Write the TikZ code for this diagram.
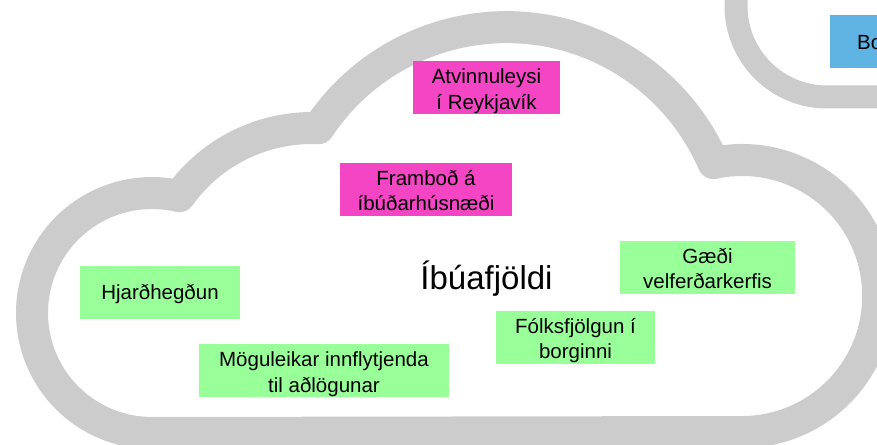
\documentclass[tikz,border=0pt]{standalone}
\usepackage{fontspec}
\setmainfont{Liberation Sans}
\definecolor{cloudgray}{RGB}{204,204,204}
\definecolor{factorgreen}{RGB}{153,255,153}
\definecolor{factorpink}{RGB}{244,70,196}
\definecolor{factorblue}{RGB}{95,180,228}
\begin{document}
\begin{tikzpicture}
  [x=1pt, y=1pt, line join=round,
    cloud/.style={draw=cloudgray, line width=32pt},
    factor/.style={
      inner sep=0pt, align=center, text height=48pt, text depth=5pt,
      font=\fontsize{20.5}{25.5}\selectfont
    },
    oneline/.style={text height=34pt, text depth=19pt},
    greenbox/.style={factor, fill=factorgreen},
    pinkbox/.style={factor, fill=factorpink},
  ]
  \useasboundingbox (0,0) rectangle (877,444);
  \clip (0,0) rectangle (877,444);

  % Cloud outlines
  \draw[cloud] (152,11) arc[start angle=270, end angle=76.8, radius=120]
    arc[start angle=144.5, end angle=87.6, radius=162.5]
    arc[start angle=146.5, end angle=23.4, radius=225.5]
    arc[start angle=102.2, end angle=-90, radius=136] -- cycle;
  \draw[cloud, line width=23pt] (736,470) -- (736,438)
    arc[start angle=180, end angle=270, radius=91] -- (900,347);

  % Factors
  \node[pinkbox, minimum width=147pt] (atv) at (486.5,356) {Atvinnuleysi\\ í Reykjavík};
  \node[pinkbox, minimum width=172pt] (framb) at (426,254.5) {Framboð á\\ íbúðarhúsnæði};
  \node[greenbox, oneline, minimum width=160pt] (hjard) at (160,151.5) {Hjarðhegðun};
  \node[greenbox, minimum width=250pt] (mogul) at (324,73.5) {Möguleikar innflytjenda\\ til aðlögunar};
  \node[greenbox, minimum width=159pt] (folks) at (575.5,106.5) {Fólksfjölgun í\\ borginni};
  \node[greenbox, minimum width=175pt] (gaedi) at (707.5,176.5) {Gæði\\ velferðarkerfis};
  \node[factor, oneline, fill=factorblue, anchor=north west, inner xsep=27pt,
    align=left, text width=150pt] (bo) at (830,429) {Bo};

  \node[anchor=base, inner sep=0pt, font=\fontsize{33}{40}\selectfont] (ibua) at (486.5,154) {Íbúafjöldi};
\end{tikzpicture}
\end{document}
